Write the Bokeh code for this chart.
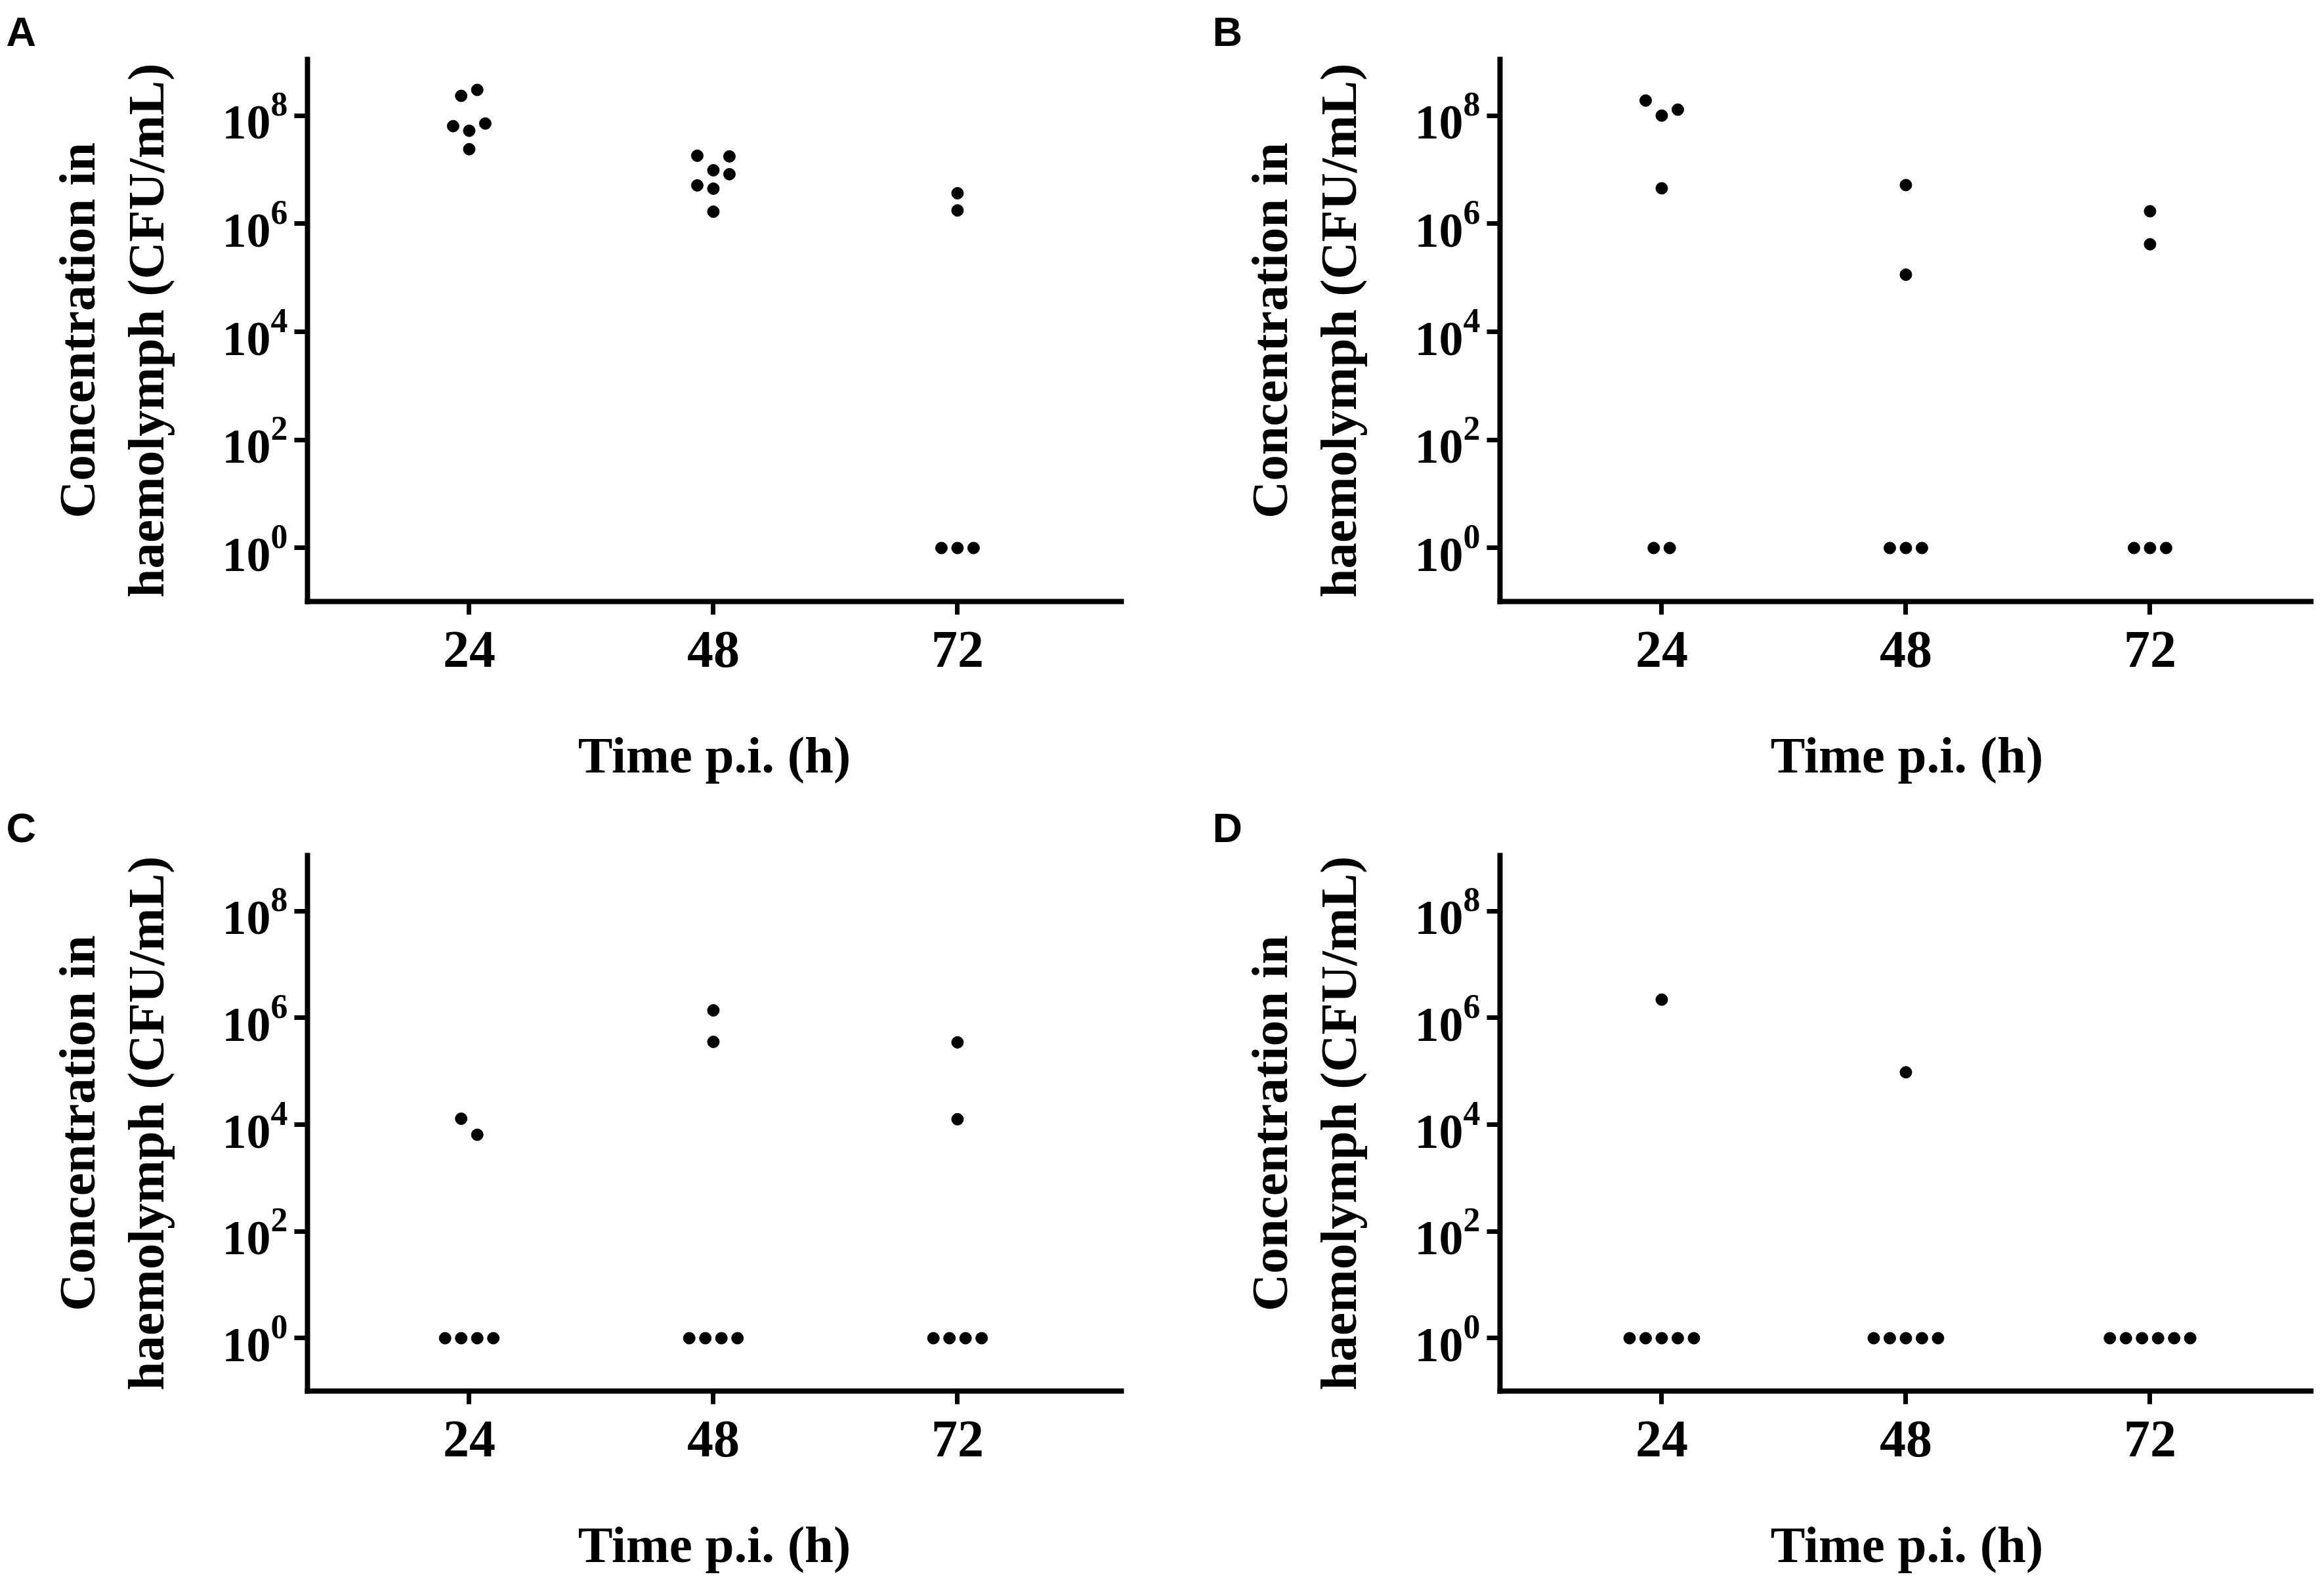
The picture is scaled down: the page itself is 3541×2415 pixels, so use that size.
from bokeh.plotting import figure
from bokeh.layouts import column, row
from bokeh.models import FixedTicker, Range1d, ColumnDataSource, LogTickFormatter
from bokeh.embed import file_html
from bokeh.resources import INLINE

# ---------------- data ----------------
TIME_TICKS = [24, 48, 72]
Y_TICKS = [1, 1e2, 1e4, 1e6, 1e8]
X_LABEL = "Time p.i. (h)"
Y_LABEL = "Concentration in\nhaemolymph (CFU/mL)"
PANEL_LETTERS = ["A", "B", "C", "D"]

# Panel A
A_time = [24, 24, 24, 24, 24, 24,
          48, 48, 48, 48, 48, 48, 48,
          72, 72, 72, 72, 72]
A_value = [2.32e8, 2.99e8, 6.38e7, 5.25e7, 7.14e7, 2.39e7,
           1.81e7, 1.76e7, 9.75e6, 8.24e6, 5.12e6, 4.45e6, 1.67e6,
           3.66e6, 1.76e6, 1, 1, 1]

# Panel B
B_time = [24, 24, 24, 24, 24, 24,
          48, 48, 48, 48, 48,
          72, 72, 72, 72, 72]
B_value = [1.90e8, 1.00e8, 1.29e8, 4.52e6, 1, 1,
           5.19e6, 1.14e5, 1, 1, 1,
           1.70e6, 4.17e5, 1, 1, 1]

# Panel C
C_time = [24, 24, 24, 24, 24, 24,
          48, 48, 48, 48, 48, 48,
          72, 72, 72, 72, 72, 72]
C_value = [1.29e4, 6.46e3, 1, 1, 1, 1,
           1.38e6, 3.55e5, 1, 1, 1, 1,
           3.47e5, 1.26e4, 1, 1, 1, 1]

# Panel D
D_time = [24, 24, 24, 24, 24, 24,
          48, 48, 48, 48, 48, 48,
          72, 72, 72, 72, 72, 72]
D_value = [2.19e6, 1, 1, 1, 1, 1,
           9.55e4, 1, 1, 1, 1, 1,
           1, 1, 1, 1, 1, 1]

# ---------------- layout (scatter arrangement slots, half-dot spacing) ----------------
A_slot = [-1, 1, -2, 0, 2, 0,
          -2, 2, 0, 2, -2, 0, 0,
          0, 0, -2, 0, 2]
B_slot = [-2, 0, 2, 0, -1, 1,
          0, 0, -2, 0, 2,
          0, 0, -2, 0, 2]
C_slot = [-1, 1, -3, -1, 1, 3,
          0, 0, -3, -1, 1, 3,
          0, 0, -3, -1, 1, 3]
D_slot = [0, -4, -2, 0, 2, 4,
          0, -4, -2, 0, 2, 4,
          -5, -3, -1, 1, 3, 5]
SLOT = 0.79  # x units per half-spacing

SERIF = "Liberation Serif"
SANS = "Liberation Sans"


def make_panel(times, values, slots, letter, letter_offset, width, height, bl, br, bt, bb):
    p = figure(width=width, height=height, output_backend="svg", toolbar_location=None,
               x_range=Range1d(8.1, 88.1), y_range=Range1d(10 ** -0.99, 10 ** 9.04),
               y_axis_type="log",
               min_border_left=bl, min_border_right=br, min_border_top=bt, min_border_bottom=bb)
    p.outline_line_color = None
    p.grid.visible = False
    p.background_fill_color = "white"
    p.border_fill_color = "white"

    p.title.text = letter
    p.title.align = "left"
    p.title.offset = letter_offset
    p.title.text_font = SANS
    p.title.text_font_style = "bold"
    p.title.text_font_size = "63px"
    p.title.text_color = "black"
    p.title.standoff = 16

    xs = [t + s * SLOT for t, s in zip(times, slots)]
    src = ColumnDataSource(dict(x=xs, y=values))
    p.scatter("x", "y", source=src, size=18, color="black", line_color="black")

    for ax in (p.xaxis[0], p.yaxis[0]):
        ax.axis_line_width = 8
        ax.axis_line_color = "black"
        ax.axis_line_cap = "square"
        ax.major_tick_line_width = 7
        ax.major_tick_line_color = "black"
        ax.major_tick_in = 0
        ax.major_tick_out = 20
        ax.minor_tick_line_color = None
        ax.major_label_text_font = SERIF
        ax.major_label_text_font_style = "bold"
        ax.major_label_text_color = "black"
        ax.axis_label_text_font = SERIF
        ax.axis_label_text_font_style = "bold"
        ax.axis_label_text_color = "black"
        ax.axis_label_text_font_size = "79px"

    xa = p.xaxis[0]
    xa.ticker = FixedTicker(ticks=TIME_TICKS)
    xa.major_label_text_font_size = "80px"
    xa.major_label_standoff = 26
    xa.axis_label = X_LABEL
    xa.axis_label_standoff = 88

    ya = p.yaxis[0]
    ya.ticker = FixedTicker(ticks=Y_TICKS)
    ya.formatter = LogTickFormatter(min_exponent=0)
    ya.major_label_text_font_size = "74px"
    ya.major_label_standoff = 10
    ya.axis_label = Y_LABEL
    ya.axis_label_standoff = 70
    ya.axis_label_text_line_height = 1.2
    return p


pA = make_panel(A_time, A_value, A_slot, "A", -459, 1762, 1213, 468, 54, 90, 297)
pB = make_panel(B_time, B_value, B_slot, "B", -438, 1763, 1213, 523, 0, 90, 297)
pC = make_panel(C_time, C_value, C_slot, "C", -459, 1762, 1186, 468, 54, 90, 270)
pD = make_panel(D_time, D_value, D_slot, "D", -438, 1763, 1186, 523, 0, 90, 270)

layout = column(row(pA, pB), row(pC, pD))
open("out.html", "w").write(file_html(layout, INLINE))
